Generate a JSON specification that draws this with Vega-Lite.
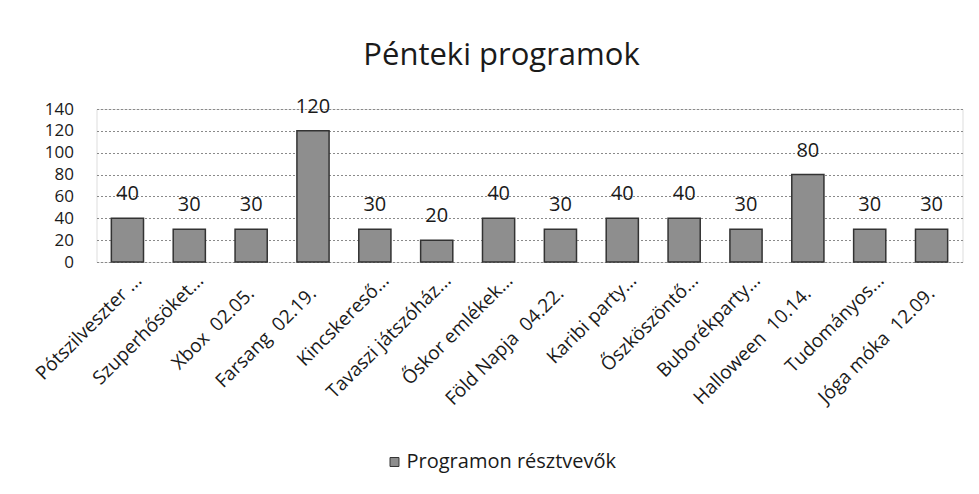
{
  "$schema": "https://vega.github.io/schema/vega-lite/v6.json",
  "width": 866,
  "height": 153,
  "autosize": {"type": "none"},
  "padding": {"left": 96.5, "top": 109, "right": 16.5, "bottom": 232},
  "background": "white",
  "title": {
    "text": "Pénteki programok",
    "font": "Open Sans",
    "fontSize": 31,
    "fontWeight": "normal",
    "color": "#1a1a1a",
    "frame": "group",
    "anchor": "middle",
    "baseline": "alphabetic",
    "dx": -28,
    "dy": 43,
    "offset": 44
  },
  "data": {
    "values": [
      {"program": "Pótszilveszter ...", "resztvevok": 40, "series": "Programon résztvevők"},
      {"program": "Szuperhősöket...", "resztvevok": 30, "series": "Programon résztvevők"},
      {"program": "Xbox\u00a0 02.05.", "resztvevok": 30, "series": "Programon résztvevők"},
      {"program": "Farsang\u00a0 02.19.", "resztvevok": 120, "series": "Programon résztvevők"},
      {"program": "Kincskereső...", "resztvevok": 30, "series": "Programon résztvevők"},
      {"program": "Tavaszi játszóház...", "resztvevok": 20, "series": "Programon résztvevők"},
      {"program": "Őskor emlékek...", "resztvevok": 40, "series": "Programon résztvevők"},
      {"program": "Föld Napja\u00a0 04.22.", "resztvevok": 30, "series": "Programon résztvevők"},
      {"program": "Karibi party...", "resztvevok": 40, "series": "Programon résztvevők"},
      {"program": "Őszköszöntő...", "resztvevok": 40, "series": "Programon résztvevők"},
      {"program": "Buborékparty...", "resztvevok": 30, "series": "Programon résztvevők"},
      {"program": "Halloween\u00a0 10.14.", "resztvevok": 80, "series": "Programon résztvevők"},
      {"program": "Tudományos...", "resztvevok": 30, "series": "Programon résztvevők"},
      {"program": "Jóga móka\u00a0 12.09.", "resztvevok": 30, "series": "Programon résztvevők"}
    ]
  },
  "encoding": {
    "x": {
      "field": "program",
      "type": "nominal",
      "sort": null,
      "scale": {"paddingInner": 0.48, "paddingOuter": 0.24},
      "axis": {
        "title": null,
        "domain": false,
        "ticks": false,
        "labelAngle": -45,
        "labelAlign": "right",
        "labelBaseline": "middle",
        "labelFont": "Open Sans",
        "labelFontSize": 19,
        "labelColor": "#1a1a1a",
        "labelLimit": 300,
        "labelPadding": {"condition": {"test": "indexof(datum.value, '...') >= 0", "value": 15}, "value": 28},
        "labelOffset": {"condition": {"test": "indexof(datum.value, '...') >= 0", "value": 11}, "value": 0}
      }
    },
    "y": {
      "field": "resztvevok",
      "type": "quantitative",
      "scale": {"domain": [0, 140]},
      "axis": {
        "title": null,
        "values": [0, 20, 40, 60, 80, 100, 120, 140],
        "domain": false,
        "ticks": false,
        "labelFont": "Open Sans",
        "labelFontSize": 17,
        "labelColor": "#1a1a1a",
        "labelPadding": 23,
        "grid": true,
        "gridColor": "#8a8a8a",
        "gridDash": [2, 2],
        "gridWidth": 1
      }
    }
  },
  "layer": [
    {
      "mark": {"type": "bar", "stroke": "#333333", "strokeWidth": 1.5},
      "encoding": {
        "color": {
          "field": "series",
          "type": "nominal",
          "scale": {"range": ["#8e8e8e"]},
          "legend": {
            "title": null,
            "orient": "none",
            "legendX": 288,
            "legendY": 343,
            "symbolType": "square",
            "symbolSize": 80,
            "symbolStrokeColor": "#333333",
            "symbolStrokeWidth": 1,
            "labelFont": "Open Sans",
            "labelFontSize": 20,
            "labelColor": "#1a1a1a",
            "labelOffset": 2,
            "labelLimit": 400
          }
        }
      }
    },
    {
      "mark": {"type": "text", "font": "Open Sans", "fontSize": 20, "color": "#1a1a1a", "baseline": "alphabetic", "dy": -18},
      "encoding": {
        "text": {"field": "resztvevok", "type": "quantitative"}
      }
    }
  ]
}
